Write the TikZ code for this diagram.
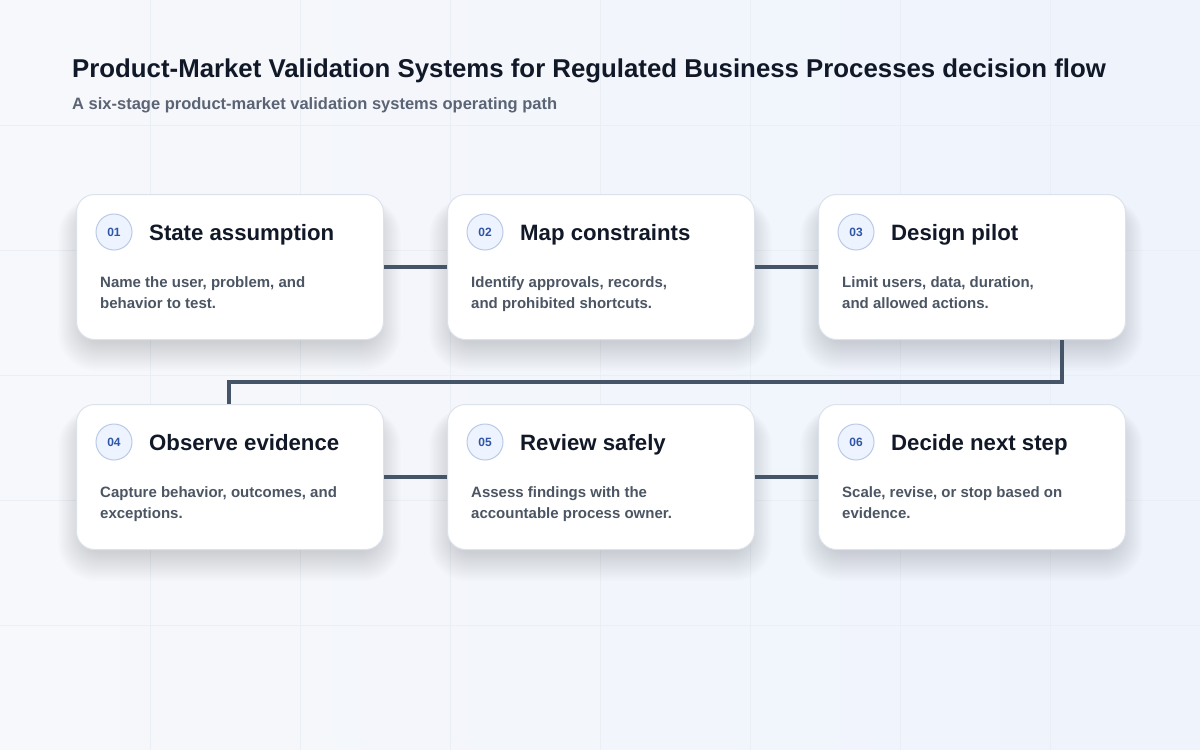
\documentclass[tikz,border=0pt]{standalone}
\usepackage{fontspec}
\setmainfont{Liberation Sans}
\usetikzlibrary{calc}
\definecolor{bgA}{HTML}{F7F8FB}
\definecolor{bgB}{HTML}{EEF3FC}
\definecolor{gridc}{HTML}{EAEEF5}
\definecolor{cardline}{HTML}{DCE2EC}
\definecolor{titlec}{HTML}{111827}
\definecolor{subc}{HTML}{5B6474}
\definecolor{bodyc}{HTML}{4B5563}
\definecolor{numc}{HTML}{2F55A4}
\definecolor{circfill}{HTML}{EEF4FF}
\definecolor{circline}{HTML}{B9C9E6}
\definecolor{linkc}{HTML}{465467}
\definecolor{shadc}{HTML}{1E2A4A}
\tikzset{
  card/.style={draw=cardline, line width=1pt, fill=white, rounded corners=18pt,
    minimum width=307pt, minimum height=145pt, anchor=north west, inner sep=0pt},
  numcirc/.style={circle, draw=circline, line width=1pt, fill=circfill, minimum size=36pt, inner sep=0pt,
    text=numc, font=\fontsize{12}{14}\selectfont\bfseries},
  cardtitle/.style={anchor=base west, inner sep=0pt, text=titlec, font=\fontsize{22.2}{26}\selectfont\bfseries},
  cardbody/.style={anchor=north west, inner sep=0pt, text=bodyc, align=left,
    font=\fontsize{15}{21.5}\selectfont\bfseries},
  link/.style={draw=linkc, line width=3.5pt},
  shadowlayer/.style={fill=shadc, fill opacity=0.0065, draw=none},
}
\begin{document}
\begin{tikzpicture}[x=1pt,y=-1pt]
\useasboundingbox (0,0) rectangle (1200,750);
\shade[left color=bgA, right color=bgB] (0,0) rectangle (1200,750);
\foreach \gx in {150,300,...,1050} \draw[gridc, line width=0.8pt] (\gx,0) -- (\gx,750);
\foreach \gy in {125,250,...,625} \draw[gridc, line width=0.8pt] (0,\gy) -- (1200,\gy);

\node[anchor=base west, inner sep=0pt, text=titlec, font=\fontsize{25.8}{30}\selectfont\bfseries] (title) at (72,77)
  {Product-Market Validation Systems for Regulated Business Processes decision flow};
\node[anchor=base west, inner sep=0pt, text=subc, font=\fontsize{16.5}{20}\selectfont\bfseries] (subtitle) at (72,109)
  {A six-stage product-market validation systems operating path};

% soft shadows under the cards
\foreach \px/\py in {76/194,447/194,818/194,76/404,447/404,818/404} {
  \foreach \s in {1,...,20} {
    \fill[shadowlayer, rounded corners={18pt+\s pt}]
      (\px+8-\s*1.3, \py+14-\s*0.5) rectangle (\px+307-8+\s*1.3, \py+145+2+\s*1.5);
  }
}

\node[card] (c1) at (76,194) {};
\node[card] (c2) at (447,194) {};
\node[card] (c3) at (818,194) {};
\node[card] (c4) at (76,404) {};
\node[card] (c5) at (447,404) {};
\node[card] (c6) at (818,404) {};

\foreach \c/\n/\t/\a/\b in {
  c1/01/State assumption/{Name the user, problem, and}/behavior to test.,
  c2/02/Map constraints/{Identify approvals, records,}/and prohibited shortcuts.,
  c3/03/Design pilot/{Limit users, data, duration,}/and allowed actions.,
  c4/04/Observe evidence/{Capture behavior, outcomes, and}/exceptions.,
  c5/05/Review safely/Assess findings with the/accountable process owner.,
  c6/06/Decide next step/{Scale, revise, or stop based on}/evidence.} {
  \node[numcirc] (\c n) at ($(\c.north west)+(38,38)$) {\n};
  \node[cardtitle] (\c t) at ($(\c.north west)+(73,46)$) {\t};
  \node[cardbody] (\c b) at ($(\c.north west)+(24,82)$) {\a\\\b};
}

\draw[link] (c1.east) -- (c2.west);
\draw[link] (c2.east) -- (c3.west);
\draw[link] (c4.east) -- (c5.west);
\draw[link] (c5.east) -- (c6.west);
\coordinate (k1) at (1062,382);
\coordinate (k2) at (229,382);
\draw[link] (c3.south -| k1) -- (k1) -- (k2) -- (c4.north -| k2);
\end{tikzpicture}
\end{document}
